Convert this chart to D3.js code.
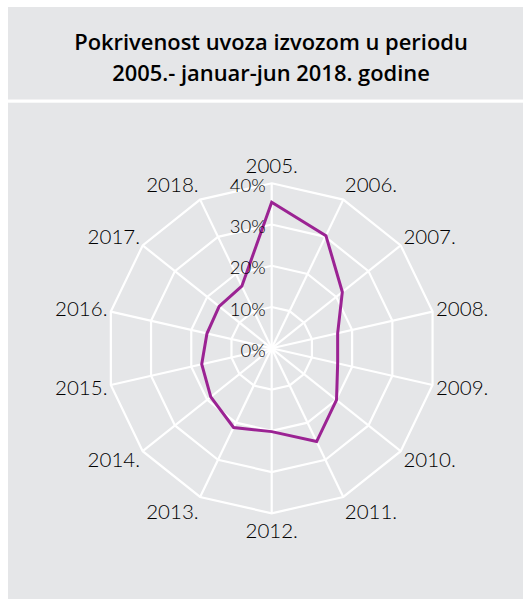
<!DOCTYPE html>
<html>
<head>
<meta charset="utf-8">
<script src="https://cdn.jsdelivr.net/npm/d3@7"></script>
<style>
  html, body { margin: 0; padding: 0; background: #ffffff; }
  svg { display: block; }
</style>
</head>
<body>
<div id="chart"></div>
<script>
// ---- data ----
const titleLines = ["Pokrivenost uvoza izvozom u periodu", "2005.- januar-jun 2018. godine"];
const categories = ["2005.", "2006.", "2007.", "2008.", "2009.", "2010.", "2011.",
                    "2012.", "2013.", "2014.", "2015.", "2016.", "2017.", "2018."];
const coverage = [35.4, 30.3, 21.9, 16.4, 16.4, 20.1, 25.1,
                  20.2, 21.3, 18.9, 17.4, 16.1, 16.3, 16.7];
const tickValues = [0, 10, 20, 30, 40];
const tickLabels = ["0%", "10%", "20%", "30%", "40%"];

// ---- layout ----
const W = 525, H = 599;
const cx = 271.7, cy = 348.3, R = 165;
const panelBg = "#e5e6e8";
const font = "Lato, 'Open Sans', 'Noto Sans', sans-serif";

const svg = d3.select("#chart").append("svg").attr("width", W).attr("height", H);

// panels
svg.append("rect").attr("x", 8).attr("y", 7).attr("width", 515).attr("height", 92.5).attr("fill", panelBg);
svg.append("rect").attr("x", 8).attr("y", 102.7).attr("width", 515).attr("height", H - 102.7).attr("fill", panelBg);

// title
svg.append("text")
  .attr("x", 271).attr("y", 49.5)
  .attr("text-anchor", "middle")
  .attr("font-family", "'Open Sans', sans-serif")
  .attr("font-weight", 600)
  .attr("font-size", 21.9)
  .attr("fill", "#000")
  .selectAll("tspan").data(titleLines).join("tspan")
  .attr("x", 271).attr("dy", (d, i) => i === 0 ? 0 : 31.4)
  .text(d => d);

// scales
const rScale = d3.scaleLinear().domain([0, 40]).range([0, R]);
const angle = d3.scalePoint().domain(categories).range([0, 2 * Math.PI * (categories.length - 1) / categories.length]);

const g = svg.append("g").attr("transform", `translate(${cx},${cy})`);

const pt = (cat, v) => {
  const a = angle(cat), r = rScale(v);
  return [r * Math.sin(a), -r * Math.cos(a)];
};

// grid rings
const ringLine = d3.line().curve(d3.curveLinearClosed);
g.selectAll("path.ring").data(tickValues.filter(v => v > 0)).join("path")
  .attr("class", "ring")
  .attr("d", v => ringLine(categories.map(c => pt(c, v))))
  .attr("fill", "none").attr("stroke", "#ffffff").attr("stroke-width", 2.2);

// spokes
g.selectAll("line.spoke").data(categories).join("line")
  .attr("class", "spoke")
  .attr("x1", 0).attr("y1", 0)
  .attr("x2", c => pt(c, 40)[0]).attr("y2", c => pt(c, 40)[1])
  .attr("stroke", "#ffffff").attr("stroke-width", 2.2);

// data polygon
g.append("path")
  .datum(categories.map((c, i) => pt(c, coverage[i])))
  .attr("d", ringLine)
  .attr("fill", "none")
  .attr("stroke", "#9b2393")
  .attr("stroke-width", 3)
  .attr("stroke-linejoin", "miter");

// tick labels
g.selectAll("text.tick").data(tickValues).join("text")
  .attr("class", "tick")
  .attr("x", -6)
  .attr("y", v => -rScale(v) + 2)
  .attr("dy", "0.35em")
  .attr("text-anchor", "end")
  .attr("font-family", font)
  .attr("font-weight", 300)
  .attr("font-size", 18.5)
  .attr("fill", "#000")
  .text((v, i) => tickLabels[i]);

// category labels
g.selectAll("text.cat").data(categories).join("text")
  .attr("class", "cat")
  .each(function (c) {
    const a = angle(c), s = Math.sin(a), co = Math.cos(a);
    const [x, y] = pt(c, 40);
    const anchor = s > 0.05 ? "start" : (s < -0.05 ? "end" : "middle");
    const dx = s * 3.5;
    const dy = -co * (9 + 8.5 * Math.abs(co));
    d3.select(this)
      .attr("x", x + dx)
      .attr("y", y + dy)
      .attr("dy", "0.35em")
      .attr("text-anchor", anchor);
  })
  .attr("font-family", font)
  .attr("font-weight", 300)
  .attr("font-size", 20.5)
  .attr("fill", "#000")
  .text(c => c);
</script>
</body>
</html>
